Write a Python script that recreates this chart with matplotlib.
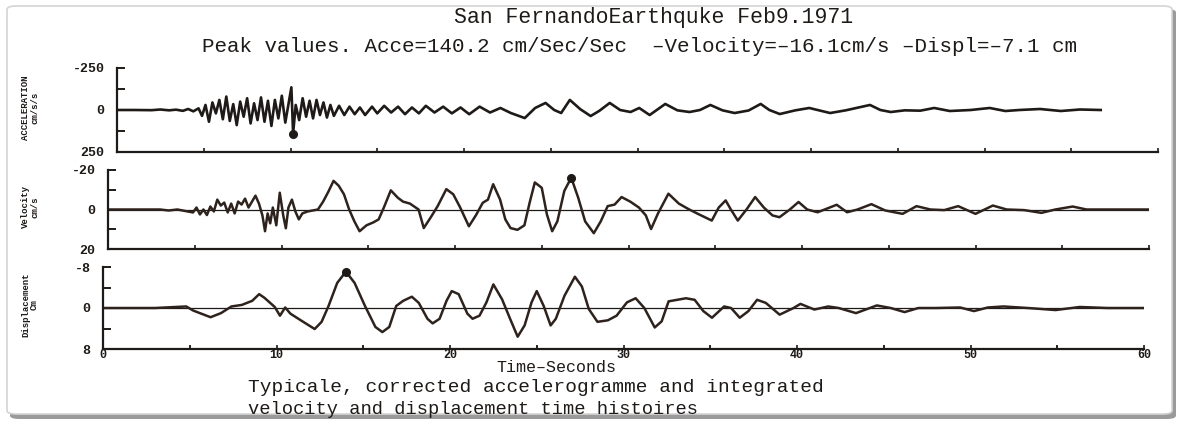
import numpy as np
import matplotlib.pyplot as plt
from matplotlib.patches import FancyBboxPatch

# ---- data (time in s) ----
acc_t = [0, 1.0, 2.0, 2.5, 3.0, 3.4, 3.8, 4.1, 4.4, 4.7, 4.9, 5.1, 5.3, 5.5, 5.7, 5.9,
         6.1, 6.3, 6.5, 6.7, 6.9, 7.1, 7.3, 7.5, 7.7, 7.9, 8.1, 8.3, 8.5, 8.7, 8.9,
         9.1, 9.3, 9.5, 9.7, 9.9, 10.05, 10.15, 10.3, 10.5, 10.7, 10.9, 11.1, 11.3,
         11.5, 11.7, 11.9, 12.1, 12.3, 12.5, 12.8, 13.1, 13.4, 13.7, 14.0, 14.3, 14.7,
         15.0, 15.4, 15.8, 16.2, 16.6, 17.0, 17.4, 17.8, 18.3, 18.8, 19.3, 19.8, 20.3,
         20.9, 21.5, 22.1, 22.7, 23.5, 24.1, 24.7, 25.2, 25.6, 26.1, 26.7, 27.3, 27.8,
         28.4, 29.0, 29.6, 30.1, 30.7, 31.6, 32.3, 33.0, 33.6, 34.2, 34.9, 35.6, 36.4,
         37.1, 37.6, 38.2, 39.1, 39.9, 41.1, 42.0, 43.4, 44.0, 44.6, 45.4, 46.3, 47.1,
         48.0, 49.2, 50.3, 51.2, 52.0, 53.2, 54.4, 55.5, 56.7]
acc_v = [0, 0, 1, -3, 2, -2, 5, -6, 8, -10, 35, -30, 70, -45, 20, -60,
         55, -80, 65, -35, 90, -50, 40, -70, 80, -40, 60, -75, 70, -55, 95,
         -60, 50, -85, 75, -45, -135, 140.2, -30, 60, -70, 40, -55, 50,
         -60, 30, -45, 45, -30, 35, -25, 30, -20, 25, -15, 30, -20,
         20, -25, 15, -20, 25, -15, 20, -25, 15, -20, 20, -15, 25,
         -20, 15, -12, 18, 48, -12, -42, 0, 18, -60, -5, 36, 5,
         -42, 0, 12, -12, 30, -36, 2, 12, 0, -30, 2, 18, 3,
         -36, 0, 24, 2, -12, 18, 2, -30, 0, 12, 2, 4, -12,
         6, 0, -12, 6, 0, -6, 6, -3, 0]

vel_t = [0, 3.0, 3.5, 4.0, 4.9, 5.1, 5.3, 5.5, 5.7, 5.9, 6.1, 6.3, 6.5, 6.7, 6.9, 7.1,
         7.3, 7.5, 7.7, 7.9, 8.1, 8.3, 8.5, 8.7, 8.9, 9.05, 9.2, 9.35, 9.5, 9.7, 9.9,
         10.1, 10.25, 10.4, 10.6, 10.8, 11.0, 11.2, 11.5, 11.8, 12.1, 12.4, 12.7, 13.0,
         13.3, 13.6, 13.9, 14.2, 14.5, 14.9, 15.3, 15.6, 15.9, 16.3, 16.7, 17.0, 17.4,
         17.9, 18.2, 18.6, 19.0, 19.5, 19.9, 20.3, 20.8, 21.2, 21.6, 21.9, 22.2, 22.6,
         22.9, 23.2, 23.6, 24.0, 24.3, 24.6, 25.0, 25.3, 25.6, 25.9, 26.3, 26.7, 27.1,
         27.5, 28.0, 28.4, 28.8, 29.2, 29.6, 30.1, 30.6, 31.0, 31.3, 31.7, 32.3, 32.9,
         33.5, 34.0, 34.8, 35.2, 35.6, 35.9, 36.3, 36.8, 37.3, 37.8, 38.3, 38.7, 39.3,
         39.8, 40.3, 40.9, 42.0, 42.6, 43.2, 44.0, 44.8, 45.8, 46.6, 47.4, 48.2, 49.0,
         50.0, 51.0, 51.8, 52.8, 53.8, 54.6, 55.6, 56.4, 58.0, 60.0]
vel_v = [0, 0, 0.5, 0, 1.5, -1, 2.5, 0, 2.8, -1.5, 1, -5, -2, -3.5, 1.5, -3,
         2, -4, -2.5, -5.5, -1, -4, -7, -3, 3, 11, 2, 7, -1, 8, -8.5,
         3, 9.5, -1, -5, 1, 5, 2, 1, 0.5, 0, -4, -9, -14.5,
         -12, -7.7, 0, 6, 11, 8, 6.5, 5, -1, -9.7, -6, -4, -3,
         0, 9.4, 4, -1.7, -10.3, -7.7, -1, 8.5, 3, -3.4, -5, -12.8, -5,
         5, 9.4, 10.3, 8, -3.4, -13.7, -11, 2.6, 11, 6, -9.4, -16.1, -6,
         6, 12, 6, -1.7, -2.5, -6.3, -4, -1, 3, 9.9, 2, -8, -3,
         0, 2.2, 5.6, -1, -4.6, 0, 5.6, 0, -6.3, -1, 3, 3.9, 0,
         -3.8, 0, 1.4, -2.4, 1.4, 0, -2.7, 0.5, 2.2, -1.7, 0, 0.3, -1.7,
         2.2, -2, 0, 0.3, 1.7, 0, -1.5, 0, 0, 0]

dis_t = [0, 3.0, 4.8, 5.2, 6.2, 6.8, 7.4, 8.0, 8.6, 9.0, 9.3, 9.6, 9.9, 10.2, 10.5,
         10.8, 11.4, 12.2, 12.6, 13.0, 13.5, 14.0, 14.5, 15.1, 15.7, 16.1, 16.5, 16.9,
         17.3, 17.8, 18.2, 18.7, 19.0, 19.4, 19.8, 20.1, 20.5, 21.0, 21.3, 21.7, 22.1,
         22.5, 23.0, 23.5, 23.9, 24.3, 24.7, 25.0, 25.4, 25.8, 26.1, 26.6, 27.2, 27.6,
         28.0, 28.5, 29.1, 29.6, 30.2, 30.7, 31.2, 31.8, 32.2, 32.6, 33.6, 34.1, 34.6,
         35.1, 35.8, 36.2, 36.7, 37.2, 37.7, 38.2, 39.0, 39.8, 40.2, 41.0, 41.8, 42.4,
         43.4, 44.6, 45.4, 46.2, 47.0, 48.0, 49.4, 50.2, 51.0, 51.9, 53.3, 54.9, 56.3,
         57.9, 60.0]
dis_v = [0, 0, -0.3, 0.5, 1.8, 1.0, -0.3, -0.6, -1.4, -2.7, -2.0, -1.1, -0.2, 1.5, -0.1,
         1.1, 2.4, 4.1, 2.7, -0.4, -4.9, -7.1, -4.9, -0.4, 3.7, 4.7, 3.7, -0.4,
         -1.4, -2.2, -1.0, 2.1, 3.0, 2.1, -1.4, -3.3, -2.7, 1.1, 2.1, 1.5, -1.1,
         -4.6, -1.7, 2.4, 5.6, 3.4, -1.1, -3.3, -0.4, 3.4, 2.1, -2.4, -6.1, -4.2,
         0.2, 2.7, 2.4, 1.5, -1.1, -1.9, 0, 3.8, 2.6, -1.3, -1.9, -1.6, 0.6,
         1.9, -0.3, 0, 1.9, 0.6, -1.6, -1.0, 1.3, 0, -0.8, 0.3, -0.3, 0,
         1.0, -0.5, 0, 0.8, 0, 0, -0.1, 0.6, -0.1, -0.3, 0, 0.4, -0.2,
         0, 0]

# peak values marked with a dot
acc_peak = (10.15, 140.2)
vel_peak = (26.7, -16.1)
dis_peak = (14.0, -7.1)

W, H = 1182, 425
fig = plt.figure(figsize=(W / 100, H / 100), dpi=100)
fig.patch.set_facecolor('white')

# scanned page frame with shadow
shadow = FancyBboxPatch((10 / W, 6 / H), 1166 / W, 410 / H, transform=fig.transFigure,
                        boxstyle='round,pad=0,rounding_size=0.008',
                        facecolor='#9a9a9a', edgecolor='none', zorder=-3)
page = FancyBboxPatch((7 / W, 11 / H), 1165 / W, 408 / H, transform=fig.transFigure,
                      boxstyle='round,pad=0,rounding_size=0.008',
                      facecolor='white', edgecolor='#d4d4d4', lw=1.2, zorder=-2)
fig.patches.extend([shadow, page])

font = 'Liberation Mono'
ink = '#1e1a18'


def px_axes(left, right, top, bottom):
    ax = fig.add_axes([left / W, 1 - bottom / H, (right - left) / W, (bottom - top) / H])
    ax.set_zorder(2)
    return ax


def style(ax, lim, minor, label, labely):
    ax.set_xlim(0, 60)
    ax.set_ylim(lim, -lim)
    ax.patch.set_alpha(0)
    for s in ['top', 'right']:
        ax.spines[s].set_visible(False)
    for s in ['left', 'bottom']:
        ax.spines[s].set_color(ink)
        ax.spines[s].set_linewidth(1.6)
    ax.set_yticks([-lim, 0, lim])
    ax.set_yticklabels(['-' + str(lim), '0', str(lim)], fontsize=9.5, fontweight='bold',
                       family=font, color=ink)
    ax.set_yticks([-minor, minor], minor=True)
    ax.tick_params(axis='y', which='both', direction='in', length=6, width=1.4,
                   colors=ink, pad=9)
    ax.set_xticks(np.arange(0, 61, 5))
    ax.tick_params(axis='x', direction='in', length=3, width=1.2, colors=ink)
    ax.set_xticklabels([])
    fig.text(label[0] / W, 1 - label[1] / H, labely, rotation=90, ha='center',
             va='center', fontsize=6.5, family=font, fontweight='bold', color=ink,
             linespacing=1.0)


ax1 = px_axes(117, 1158, 68, 152)
style(ax1, 250, 125, (30, 108), 'ACCELERATION\ncm/s/s')
ax1.plot(acc_t, acc_v, color=ink, lw=1.9, solid_joinstyle='round')
ax1.plot(*acc_peak, 'o', color=ink, ms=5.5)

ax2 = px_axes(108, 1149, 170, 249)
style(ax2, 20, 10, (30, 207), 'Velocity\ncm/s')
ax2.axhline(0, color=ink, lw=0.9)
ax2.plot(vel_t, vel_v, color='#2e221c', lw=1.8, solid_joinstyle='round')
ax2.plot(*vel_peak, 'o', color=ink, ms=5.5)

ax3 = px_axes(103, 1144, 267, 349)
style(ax3, 8, 4, (30, 305), 'Displacement\nCm')
ax3.axhline(0, color=ink, lw=0.9)
ax3.plot(dis_t, dis_v, color='#2e221c', lw=1.8, solid_joinstyle='round')
ax3.plot(*dis_peak, 'o', color=ink, ms=5.5)
ax3.set_xticks(np.arange(0, 61, 10))
ax3.set_xticks(np.arange(5, 60, 10), minor=True)
ax3.set_xticklabels([str(v) for v in range(0, 61, 10)], fontsize=8.5, fontweight='bold',
                    family=font, color=ink)
ax3.tick_params(axis='x', which='both', direction='in', length=3, width=1.2, pad=0)

fig.text(654 / W, 1 - 18 / H, 'San FernandoEarthquke Feb9.1971', ha='center', va='center',
         fontsize=15.5, family=font, color=ink)
fig.text(640 / W, 1 - 47 / H,
         'Peak values. Acce=140.2 cm/Sec/Sec  \u2013Velocity=\u201316.1cm/s \u2013Displ=\u20137.1 cm',
         ha='center', va='center', fontsize=15, family=font, color=ink)
fig.text(556 / W, 1 - 367 / H, 'Time\u2013Seconds', ha='center', va='center',
         fontsize=12, family=font, color=ink)
fig.text(248 / W, 1 - 388 / H, 'Typicale, corrected accelerogramme and integrated',
         ha='left', va='center', fontsize=14, family=font, color=ink)
fig.text(248 / W, 1 - 410 / H, 'velocity and displacement time histoires',
         ha='left', va='center', fontsize=13.5, family=font, color=ink)

fig.savefig('out.png', dpi=100)
